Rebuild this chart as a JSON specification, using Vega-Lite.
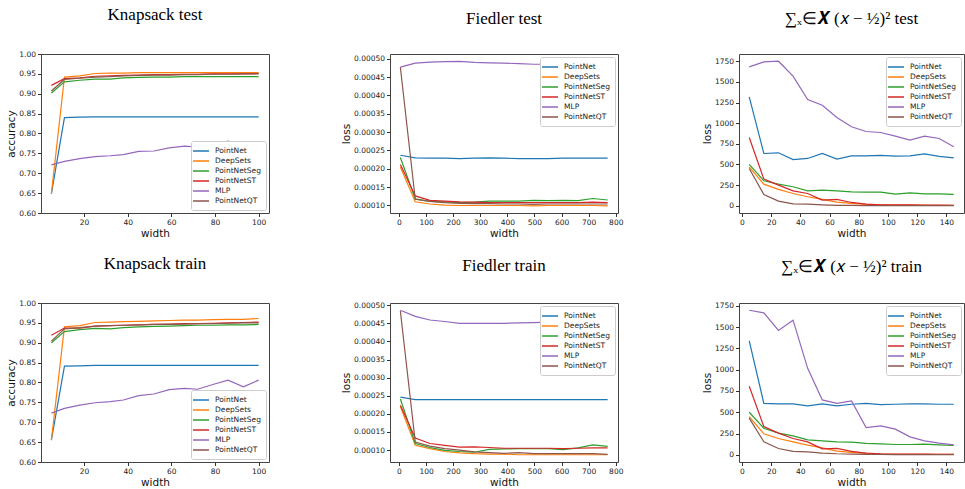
{
"$schema": "https://vega.github.io/schema/vega-lite/v6.json",
"padding": {"left": 6, "top": 5, "right": 0, "bottom": 0},
"background": "white",
"datasets": {
"kt": [
{"s":"PointNet","w":5,"v":0.648},{"s":"PointNet","w":11,"v":0.840},{"s":"PointNet","w":18,"v":0.841},{"s":"PointNet","w":25,"v":0.842},{"s":"PointNet","w":32,"v":0.842},{"s":"PointNet","w":38,"v":0.842},{"s":"PointNet","w":45,"v":0.842},{"s":"PointNet","w":52,"v":0.842},{"s":"PointNet","w":59,"v":0.842},{"s":"PointNet","w":66,"v":0.842},{"s":"PointNet","w":72,"v":0.842},{"s":"PointNet","w":79,"v":0.842},{"s":"PointNet","w":86,"v":0.842},{"s":"PointNet","w":93,"v":0.842},{"s":"PointNet","w":100,"v":0.842},
{"s":"DeepSets","w":5,"v":0.648},{"s":"DeepSets","w":11,"v":0.942},{"s":"DeepSets","w":18,"v":0.945},{"s":"DeepSets","w":25,"v":0.951},{"s":"DeepSets","w":32,"v":0.952},{"s":"DeepSets","w":38,"v":0.952},{"s":"DeepSets","w":45,"v":0.953},{"s":"DeepSets","w":52,"v":0.953},{"s":"DeepSets","w":59,"v":0.953},{"s":"DeepSets","w":66,"v":0.953},{"s":"DeepSets","w":72,"v":0.953},{"s":"DeepSets","w":79,"v":0.953},{"s":"DeepSets","w":86,"v":0.953},{"s":"DeepSets","w":93,"v":0.953},{"s":"DeepSets","w":100,"v":0.953},
{"s":"PointNetSeg","w":5,"v":0.902},{"s":"PointNetSeg","w":11,"v":0.930},{"s":"PointNetSeg","w":18,"v":0.934},{"s":"PointNetSeg","w":25,"v":0.937},{"s":"PointNetSeg","w":32,"v":0.937},{"s":"PointNetSeg","w":38,"v":0.940},{"s":"PointNetSeg","w":45,"v":0.941},{"s":"PointNetSeg","w":52,"v":0.942},{"s":"PointNetSeg","w":59,"v":0.942},{"s":"PointNetSeg","w":66,"v":0.943},{"s":"PointNetSeg","w":72,"v":0.943},{"s":"PointNetSeg","w":79,"v":0.943},{"s":"PointNetSeg","w":86,"v":0.943},{"s":"PointNetSeg","w":93,"v":0.943},{"s":"PointNetSeg","w":100,"v":0.943},
{"s":"PointNetST","w":5,"v":0.921},{"s":"PointNetST","w":11,"v":0.938},{"s":"PointNetST","w":18,"v":0.940},{"s":"PointNetST","w":25,"v":0.944},{"s":"PointNetST","w":32,"v":0.945},{"s":"PointNetST","w":38,"v":0.946},{"s":"PointNetST","w":45,"v":0.947},{"s":"PointNetST","w":52,"v":0.948},{"s":"PointNetST","w":59,"v":0.948},{"s":"PointNetST","w":66,"v":0.949},{"s":"PointNetST","w":72,"v":0.949},{"s":"PointNetST","w":79,"v":0.950},{"s":"PointNetST","w":86,"v":0.950},{"s":"PointNetST","w":93,"v":0.950},{"s":"PointNetST","w":100,"v":0.951},
{"s":"MLP","w":5,"v":0.721},{"s":"MLP","w":11,"v":0.730},{"s":"MLP","w":18,"v":0.737},{"s":"MLP","w":25,"v":0.742},{"s":"MLP","w":32,"v":0.744},{"s":"MLP","w":38,"v":0.747},{"s":"MLP","w":45,"v":0.755},{"s":"MLP","w":52,"v":0.756},{"s":"MLP","w":59,"v":0.764},{"s":"MLP","w":66,"v":0.768},{"s":"MLP","w":72,"v":0.766},{"s":"MLP","w":79,"v":0.772},{"s":"MLP","w":86,"v":0.781},{"s":"MLP","w":93,"v":0.769},{"s":"MLP","w":100,"v":0.777},
{"s":"PointNetQT","w":5,"v":0.907},{"s":"PointNetQT","w":11,"v":0.936},{"s":"PointNetQT","w":18,"v":0.939},{"s":"PointNetQT","w":25,"v":0.942},{"s":"PointNetQT","w":32,"v":0.943},{"s":"PointNetQT","w":38,"v":0.945},{"s":"PointNetQT","w":45,"v":0.946},{"s":"PointNetQT","w":52,"v":0.947},{"s":"PointNetQT","w":59,"v":0.947},{"s":"PointNetQT","w":66,"v":0.948},{"s":"PointNetQT","w":72,"v":0.948},{"s":"PointNetQT","w":79,"v":0.949},{"s":"PointNetQT","w":86,"v":0.949},{"s":"PointNetQT","w":93,"v":0.950},{"s":"PointNetQT","w":100,"v":0.950}
],
"ktr": [
{"s":"PointNet","w":5,"v":0.655},{"s":"PointNet","w":11,"v":0.841},{"s":"PointNet","w":18,"v":0.842},{"s":"PointNet","w":25,"v":0.843},{"s":"PointNet","w":32,"v":0.843},{"s":"PointNet","w":38,"v":0.843},{"s":"PointNet","w":45,"v":0.843},{"s":"PointNet","w":52,"v":0.843},{"s":"PointNet","w":59,"v":0.843},{"s":"PointNet","w":66,"v":0.843},{"s":"PointNet","w":72,"v":0.843},{"s":"PointNet","w":79,"v":0.843},{"s":"PointNet","w":86,"v":0.843},{"s":"PointNet","w":93,"v":0.843},{"s":"PointNet","w":100,"v":0.843},
{"s":"DeepSets","w":5,"v":0.655},{"s":"DeepSets","w":11,"v":0.940},{"s":"DeepSets","w":18,"v":0.943},{"s":"DeepSets","w":25,"v":0.951},{"s":"DeepSets","w":32,"v":0.952},{"s":"DeepSets","w":38,"v":0.953},{"s":"DeepSets","w":45,"v":0.954},{"s":"DeepSets","w":52,"v":0.955},{"s":"DeepSets","w":59,"v":0.956},{"s":"DeepSets","w":66,"v":0.957},{"s":"DeepSets","w":72,"v":0.957},{"s":"DeepSets","w":79,"v":0.958},{"s":"DeepSets","w":86,"v":0.959},{"s":"DeepSets","w":93,"v":0.959},{"s":"DeepSets","w":100,"v":0.961},
{"s":"PointNetSeg","w":5,"v":0.900},{"s":"PointNetSeg","w":11,"v":0.928},{"s":"PointNetSeg","w":18,"v":0.933},{"s":"PointNetSeg","w":25,"v":0.936},{"s":"PointNetSeg","w":32,"v":0.935},{"s":"PointNetSeg","w":38,"v":0.938},{"s":"PointNetSeg","w":45,"v":0.940},{"s":"PointNetSeg","w":52,"v":0.941},{"s":"PointNetSeg","w":59,"v":0.942},{"s":"PointNetSeg","w":66,"v":0.943},{"s":"PointNetSeg","w":72,"v":0.944},{"s":"PointNetSeg","w":79,"v":0.944},{"s":"PointNetSeg","w":86,"v":0.945},{"s":"PointNetSeg","w":93,"v":0.945},{"s":"PointNetSeg","w":100,"v":0.946},
{"s":"PointNetST","w":5,"v":0.919},{"s":"PointNetST","w":11,"v":0.937},{"s":"PointNetST","w":18,"v":0.937},{"s":"PointNetST","w":25,"v":0.942},{"s":"PointNetST","w":32,"v":0.943},{"s":"PointNetST","w":38,"v":0.944},{"s":"PointNetST","w":45,"v":0.945},{"s":"PointNetST","w":52,"v":0.946},{"s":"PointNetST","w":59,"v":0.947},{"s":"PointNetST","w":66,"v":0.948},{"s":"PointNetST","w":72,"v":0.948},{"s":"PointNetST","w":79,"v":0.949},{"s":"PointNetST","w":86,"v":0.950},{"s":"PointNetST","w":93,"v":0.951},{"s":"PointNetST","w":100,"v":0.952},
{"s":"MLP","w":5,"v":0.723},{"s":"MLP","w":11,"v":0.735},{"s":"MLP","w":18,"v":0.743},{"s":"MLP","w":25,"v":0.749},{"s":"MLP","w":32,"v":0.752},{"s":"MLP","w":38,"v":0.756},{"s":"MLP","w":45,"v":0.767},{"s":"MLP","w":52,"v":0.771},{"s":"MLP","w":59,"v":0.782},{"s":"MLP","w":66,"v":0.785},{"s":"MLP","w":72,"v":0.783},{"s":"MLP","w":79,"v":0.795},{"s":"MLP","w":86,"v":0.806},{"s":"MLP","w":93,"v":0.789},{"s":"MLP","w":100,"v":0.806},
{"s":"PointNetQT","w":5,"v":0.904},{"s":"PointNetQT","w":11,"v":0.935},{"s":"PointNetQT","w":18,"v":0.938},{"s":"PointNetQT","w":25,"v":0.942},{"s":"PointNetQT","w":32,"v":0.943},{"s":"PointNetQT","w":38,"v":0.944},{"s":"PointNetQT","w":45,"v":0.945},{"s":"PointNetQT","w":52,"v":0.946},{"s":"PointNetQT","w":59,"v":0.946},{"s":"PointNetQT","w":66,"v":0.947},{"s":"PointNetQT","w":72,"v":0.948},{"s":"PointNetQT","w":79,"v":0.948},{"s":"PointNetQT","w":86,"v":0.949},{"s":"PointNetQT","w":93,"v":0.950},{"s":"PointNetQT","w":100,"v":0.950}
],
"ft": [
{"s":"PointNet","w":5,"v":0.000237},{"s":"PointNet","w":60,"v":0.000230},{"s":"PointNet","w":114,"v":0.000229},{"s":"PointNet","w":169,"v":0.000229},{"s":"PointNet","w":224,"v":0.000228},{"s":"PointNet","w":278,"v":0.000229},{"s":"PointNet","w":333,"v":0.000230},{"s":"PointNet","w":388,"v":0.000229},{"s":"PointNet","w":442,"v":0.000228},{"s":"PointNet","w":497,"v":0.000228},{"s":"PointNet","w":551,"v":0.000228},{"s":"PointNet","w":606,"v":0.000229},{"s":"PointNet","w":661,"v":0.000229},{"s":"PointNet","w":715,"v":0.000229},{"s":"PointNet","w":770,"v":0.000229},
{"s":"DeepSets","w":5,"v":0.000205},{"s":"DeepSets","w":60,"v":0.000110},{"s":"DeepSets","w":114,"v":0.000104},{"s":"DeepSets","w":169,"v":0.000101},{"s":"DeepSets","w":224,"v":0.000100},{"s":"DeepSets","w":278,"v":0.000100},{"s":"DeepSets","w":333,"v":0.000100},{"s":"DeepSets","w":388,"v":0.000100},{"s":"DeepSets","w":442,"v":0.000100},{"s":"DeepSets","w":497,"v":0.000099},{"s":"DeepSets","w":551,"v":0.000100},{"s":"DeepSets","w":606,"v":0.000100},{"s":"DeepSets","w":661,"v":0.000100},{"s":"DeepSets","w":715,"v":0.000100},{"s":"DeepSets","w":770,"v":0.000099},
{"s":"PointNetSeg","w":5,"v":0.000231},{"s":"PointNetSeg","w":60,"v":0.000118},{"s":"PointNetSeg","w":114,"v":0.000111},{"s":"PointNetSeg","w":169,"v":0.000110},{"s":"PointNetSeg","w":224,"v":0.000108},{"s":"PointNetSeg","w":278,"v":0.000109},{"s":"PointNetSeg","w":333,"v":0.000112},{"s":"PointNetSeg","w":388,"v":0.000112},{"s":"PointNetSeg","w":442,"v":0.000112},{"s":"PointNetSeg","w":497,"v":0.000114},{"s":"PointNetSeg","w":551,"v":0.000113},{"s":"PointNetSeg","w":606,"v":0.000114},{"s":"PointNetSeg","w":661,"v":0.000113},{"s":"PointNetSeg","w":715,"v":0.000119},{"s":"PointNetSeg","w":770,"v":0.000115},
{"s":"PointNetST","w":5,"v":0.000212},{"s":"PointNetST","w":60,"v":0.000126},{"s":"PointNetST","w":114,"v":0.000114},{"s":"PointNetST","w":169,"v":0.000112},{"s":"PointNetST","w":224,"v":0.000110},{"s":"PointNetST","w":278,"v":0.000109},{"s":"PointNetST","w":333,"v":0.000108},{"s":"PointNetST","w":388,"v":0.000108},{"s":"PointNetST","w":442,"v":0.000108},{"s":"PointNetST","w":497,"v":0.000108},{"s":"PointNetST","w":551,"v":0.000108},{"s":"PointNetST","w":606,"v":0.000108},{"s":"PointNetST","w":661,"v":0.000108},{"s":"PointNetST","w":715,"v":0.000109},{"s":"PointNetST","w":770,"v":0.000108},
{"s":"MLP","w":5,"v":0.000477},{"s":"MLP","w":60,"v":0.000488},{"s":"MLP","w":114,"v":0.000491},{"s":"MLP","w":169,"v":0.000492},{"s":"MLP","w":224,"v":0.000493},{"s":"MLP","w":278,"v":0.000490},{"s":"MLP","w":333,"v":0.000489},{"s":"MLP","w":388,"v":0.000488},{"s":"MLP","w":442,"v":0.000487},{"s":"MLP","w":497,"v":0.000485},{"s":"MLP","w":551,"v":0.000485},{"s":"MLP","w":606,"v":0.000485},{"s":"MLP","w":661,"v":0.000484},{"s":"MLP","w":715,"v":0.000484},{"s":"MLP","w":770,"v":0.000484},
{"s":"PointNetQT","w":5,"v":0.000477},{"s":"PointNetQT","w":60,"v":0.000117},{"s":"PointNetQT","w":114,"v":0.000111},{"s":"PointNetQT","w":169,"v":0.000108},{"s":"PointNetQT","w":224,"v":0.000106},{"s":"PointNetQT","w":278,"v":0.000105},{"s":"PointNetQT","w":333,"v":0.000105},{"s":"PointNetQT","w":388,"v":0.000104},{"s":"PointNetQT","w":442,"v":0.000104},{"s":"PointNetQT","w":497,"v":0.000103},{"s":"PointNetQT","w":551,"v":0.000104},{"s":"PointNetQT","w":606,"v":0.000104},{"s":"PointNetQT","w":661,"v":0.000104},{"s":"PointNetQT","w":715,"v":0.000104},{"s":"PointNetQT","w":770,"v":0.000104}
],
"ftr": [
{"s":"PointNet","w":5,"v":0.000246},{"s":"PointNet","w":60,"v":0.000239},{"s":"PointNet","w":114,"v":0.000239},{"s":"PointNet","w":169,"v":0.000239},{"s":"PointNet","w":224,"v":0.000239},{"s":"PointNet","w":278,"v":0.000239},{"s":"PointNet","w":333,"v":0.000239},{"s":"PointNet","w":388,"v":0.000239},{"s":"PointNet","w":442,"v":0.000239},{"s":"PointNet","w":497,"v":0.000239},{"s":"PointNet","w":551,"v":0.000239},{"s":"PointNet","w":606,"v":0.000239},{"s":"PointNet","w":661,"v":0.000239},{"s":"PointNet","w":715,"v":0.000239},{"s":"PointNet","w":770,"v":0.000239},
{"s":"DeepSets","w":5,"v":0.000220},{"s":"DeepSets","w":60,"v":0.000113},{"s":"DeepSets","w":114,"v":0.000104},{"s":"DeepSets","w":169,"v":0.000096},{"s":"DeepSets","w":224,"v":0.000092},{"s":"DeepSets","w":278,"v":0.000090},{"s":"DeepSets","w":333,"v":0.000089},{"s":"DeepSets","w":388,"v":0.000089},{"s":"DeepSets","w":442,"v":0.000087},{"s":"DeepSets","w":497,"v":0.000087},{"s":"DeepSets","w":551,"v":0.000087},{"s":"DeepSets","w":606,"v":0.000087},{"s":"DeepSets","w":661,"v":0.000087},{"s":"DeepSets","w":715,"v":0.000087},{"s":"DeepSets","w":770,"v":0.000087},
{"s":"PointNetSeg","w":5,"v":0.000241},{"s":"PointNetSeg","w":60,"v":0.000118},{"s":"PointNetSeg","w":114,"v":0.000107},{"s":"PointNetSeg","w":169,"v":0.000099},{"s":"PointNetSeg","w":224,"v":0.000096},{"s":"PointNetSeg","w":278,"v":0.000094},{"s":"PointNetSeg","w":333,"v":0.000102},{"s":"PointNetSeg","w":388,"v":0.000103},{"s":"PointNetSeg","w":442,"v":0.000104},{"s":"PointNetSeg","w":497,"v":0.000104},{"s":"PointNetSeg","w":551,"v":0.000104},{"s":"PointNetSeg","w":606,"v":0.000101},{"s":"PointNetSeg","w":661,"v":0.000106},{"s":"PointNetSeg","w":715,"v":0.000114},{"s":"PointNetSeg","w":770,"v":0.000110},
{"s":"PointNetST","w":5,"v":0.000224},{"s":"PointNetST","w":60,"v":0.000133},{"s":"PointNetST","w":114,"v":0.000118},{"s":"PointNetST","w":169,"v":0.000113},{"s":"PointNetST","w":224,"v":0.000108},{"s":"PointNetST","w":278,"v":0.000109},{"s":"PointNetST","w":333,"v":0.000107},{"s":"PointNetST","w":388,"v":0.000105},{"s":"PointNetST","w":442,"v":0.000105},{"s":"PointNetST","w":497,"v":0.000105},{"s":"PointNetST","w":551,"v":0.000105},{"s":"PointNetST","w":606,"v":0.000104},{"s":"PointNetST","w":661,"v":0.000105},{"s":"PointNetST","w":715,"v":0.000106},{"s":"PointNetST","w":770,"v":0.000106},
{"s":"MLP","w":5,"v":0.000486},{"s":"MLP","w":60,"v":0.000469},{"s":"MLP","w":114,"v":0.000459},{"s":"MLP","w":169,"v":0.000455},{"s":"MLP","w":224,"v":0.000450},{"s":"MLP","w":278,"v":0.000450},{"s":"MLP","w":333,"v":0.000450},{"s":"MLP","w":388,"v":0.000450},{"s":"MLP","w":442,"v":0.000451},{"s":"MLP","w":497,"v":0.000452},{"s":"MLP","w":551,"v":0.000453},{"s":"MLP","w":606,"v":0.000455},{"s":"MLP","w":661,"v":0.000456},{"s":"MLP","w":715,"v":0.000458},{"s":"MLP","w":770,"v":0.000459},
{"s":"PointNetQT","w":5,"v":0.000484},{"s":"PointNetQT","w":60,"v":0.000122},{"s":"PointNetQT","w":114,"v":0.000111},{"s":"PointNetQT","w":169,"v":0.000104},{"s":"PointNetQT","w":224,"v":0.000100},{"s":"PointNetQT","w":278,"v":0.000095},{"s":"PointNetQT","w":333,"v":0.000093},{"s":"PointNetQT","w":388,"v":0.000091},{"s":"PointNetQT","w":442,"v":0.000093},{"s":"PointNetQT","w":497,"v":0.000090},{"s":"PointNetQT","w":551,"v":0.000090},{"s":"PointNetQT","w":606,"v":0.000090},{"s":"PointNetQT","w":661,"v":0.000090},{"s":"PointNetQT","w":715,"v":0.000090},{"s":"PointNetQT","w":770,"v":0.000088}
],
"st": [
{"s":"PointNet","w":5,"v":1319},{"s":"PointNet","w":15,"v":633},{"s":"PointNet","w":25,"v":641},{"s":"PointNet","w":35,"v":560},{"s":"PointNet","w":45,"v":573},{"s":"PointNet","w":55,"v":633},{"s":"PointNet","w":65,"v":565},{"s":"PointNet","w":75,"v":605},{"s":"PointNet","w":85,"v":605},{"s":"PointNet","w":95,"v":609},{"s":"PointNet","w":105,"v":601},{"s":"PointNet","w":115,"v":605},{"s":"PointNet","w":125,"v":629},{"s":"PointNet","w":135,"v":597},{"s":"PointNet","w":145,"v":581},
{"s":"DeepSets","w":5,"v":472},{"s":"DeepSets","w":15,"v":262},{"s":"DeepSets","w":25,"v":198},{"s":"DeepSets","w":35,"v":149},{"s":"DeepSets","w":45,"v":109},{"s":"DeepSets","w":55,"v":77},{"s":"DeepSets","w":65,"v":44},{"s":"DeepSets","w":75,"v":28},{"s":"DeepSets","w":85,"v":16},{"s":"DeepSets","w":95,"v":12},{"s":"DeepSets","w":105,"v":8},{"s":"DeepSets","w":115,"v":8},{"s":"DeepSets","w":125,"v":4},{"s":"DeepSets","w":135,"v":4},{"s":"DeepSets","w":145,"v":4},
{"s":"PointNetSeg","w":5,"v":500},{"s":"PointNetSeg","w":15,"v":302},{"s":"PointNetSeg","w":25,"v":262},{"s":"PointNetSeg","w":35,"v":230},{"s":"PointNetSeg","w":45,"v":181},{"s":"PointNetSeg","w":55,"v":190},{"s":"PointNetSeg","w":65,"v":181},{"s":"PointNetSeg","w":75,"v":169},{"s":"PointNetSeg","w":85,"v":165},{"s":"PointNetSeg","w":95,"v":165},{"s":"PointNetSeg","w":105,"v":141},{"s":"PointNetSeg","w":115,"v":157},{"s":"PointNetSeg","w":125,"v":145},{"s":"PointNetSeg","w":135,"v":145},{"s":"PointNetSeg","w":145,"v":137},
{"s":"PointNetST","w":5,"v":827},{"s":"PointNetST","w":15,"v":323},{"s":"PointNetST","w":25,"v":250},{"s":"PointNetST","w":35,"v":181},{"s":"PointNetST","w":45,"v":149},{"s":"PointNetST","w":55,"v":69},{"s":"PointNetST","w":65,"v":77},{"s":"PointNetST","w":75,"v":40},{"s":"PointNetST","w":85,"v":20},{"s":"PointNetST","w":95,"v":12},{"s":"PointNetST","w":105,"v":12},{"s":"PointNetST","w":115,"v":12},{"s":"PointNetST","w":125,"v":8},{"s":"PointNetST","w":135,"v":8},{"s":"PointNetST","w":145,"v":4},
{"s":"MLP","w":5,"v":1681},{"s":"MLP","w":15,"v":1742},{"s":"MLP","w":25,"v":1750},{"s":"MLP","w":35,"v":1569},{"s":"MLP","w":45,"v":1286},{"s":"MLP","w":55,"v":1218},{"s":"MLP","w":65,"v":1069},{"s":"MLP","w":75,"v":956},{"s":"MLP","w":85,"v":899},{"s":"MLP","w":95,"v":887},{"s":"MLP","w":105,"v":843},{"s":"MLP","w":115,"v":794},{"s":"MLP","w":125,"v":843},{"s":"MLP","w":135,"v":815},{"s":"MLP","w":145,"v":714},
{"s":"PointNetQT","w":5,"v":452},{"s":"PointNetQT","w":15,"v":137},{"s":"PointNetQT","w":25,"v":56},{"s":"PointNetQT","w":35,"v":24},{"s":"PointNetQT","w":45,"v":20},{"s":"PointNetQT","w":55,"v":12},{"s":"PointNetQT","w":65,"v":4},{"s":"PointNetQT","w":75,"v":4},{"s":"PointNetQT","w":85,"v":2},{"s":"PointNetQT","w":95,"v":2},{"s":"PointNetQT","w":105,"v":2},{"s":"PointNetQT","w":115,"v":2},{"s":"PointNetQT","w":125,"v":2},{"s":"PointNetQT","w":135,"v":2},{"s":"PointNetQT","w":145,"v":2}
],
"str": [
{"s":"PointNet","w":5,"v":1340},{"s":"PointNet","w":15,"v":605},{"s":"PointNet","w":25,"v":598},{"s":"PointNet","w":35,"v":598},{"s":"PointNet","w":45,"v":574},{"s":"PointNet","w":55,"v":598},{"s":"PointNet","w":65,"v":574},{"s":"PointNet","w":75,"v":594},{"s":"PointNet","w":85,"v":605},{"s":"PointNet","w":95,"v":590},{"s":"PointNet","w":105,"v":594},{"s":"PointNet","w":115,"v":598},{"s":"PointNet","w":125,"v":598},{"s":"PointNet","w":135,"v":594},{"s":"PointNet","w":145,"v":594},
{"s":"DeepSets","w":5,"v":449},{"s":"DeepSets","w":15,"v":246},{"s":"DeepSets","w":25,"v":191},{"s":"DeepSets","w":35,"v":152},{"s":"DeepSets","w":45,"v":113},{"s":"DeepSets","w":55,"v":82},{"s":"DeepSets","w":65,"v":43},{"s":"DeepSets","w":75,"v":27},{"s":"DeepSets","w":85,"v":16},{"s":"DeepSets","w":95,"v":8},{"s":"DeepSets","w":105,"v":6},{"s":"DeepSets","w":115,"v":4},{"s":"DeepSets","w":125,"v":4},{"s":"DeepSets","w":135,"v":4},{"s":"DeepSets","w":145,"v":4},
{"s":"PointNetSeg","w":5,"v":500},{"s":"PointNetSeg","w":15,"v":312},{"s":"PointNetSeg","w":25,"v":254},{"s":"PointNetSeg","w":35,"v":223},{"s":"PointNetSeg","w":45,"v":176},{"s":"PointNetSeg","w":55,"v":164},{"s":"PointNetSeg","w":65,"v":152},{"s":"PointNetSeg","w":75,"v":148},{"s":"PointNetSeg","w":85,"v":133},{"s":"PointNetSeg","w":95,"v":129},{"s":"PointNetSeg","w":105,"v":121},{"s":"PointNetSeg","w":115,"v":121},{"s":"PointNetSeg","w":125,"v":125},{"s":"PointNetSeg","w":135,"v":117},{"s":"PointNetSeg","w":145,"v":109},
{"s":"PointNetST","w":5,"v":805},{"s":"PointNetST","w":15,"v":332},{"s":"PointNetST","w":25,"v":254},{"s":"PointNetST","w":35,"v":191},{"s":"PointNetST","w":45,"v":152},{"s":"PointNetST","w":55,"v":70},{"s":"PointNetST","w":65,"v":74},{"s":"PointNetST","w":75,"v":39},{"s":"PointNetST","w":85,"v":20},{"s":"PointNetST","w":95,"v":12},{"s":"PointNetST","w":105,"v":8},{"s":"PointNetST","w":115,"v":8},{"s":"PointNetST","w":125,"v":8},{"s":"PointNetST","w":135,"v":6},{"s":"PointNetST","w":145,"v":4},
{"s":"MLP","w":5,"v":1699},{"s":"MLP","w":15,"v":1668},{"s":"MLP","w":25,"v":1461},{"s":"MLP","w":35,"v":1582},{"s":"MLP","w":45,"v":1016},{"s":"MLP","w":55,"v":645},{"s":"MLP","w":65,"v":605},{"s":"MLP","w":75,"v":633},{"s":"MLP","w":85,"v":320},{"s":"MLP","w":95,"v":340},{"s":"MLP","w":105,"v":301},{"s":"MLP","w":115,"v":211},{"s":"MLP","w":125,"v":164},{"s":"MLP","w":135,"v":137},{"s":"MLP","w":145,"v":117},
{"s":"PointNetQT","w":5,"v":430},{"s":"PointNetQT","w":15,"v":152},{"s":"PointNetQT","w":25,"v":74},{"s":"PointNetQT","w":35,"v":39},{"s":"PointNetQT","w":45,"v":35},{"s":"PointNetQT","w":55,"v":20},{"s":"PointNetQT","w":65,"v":12},{"s":"PointNetQT","w":75,"v":8},{"s":"PointNetQT","w":85,"v":4},{"s":"PointNetQT","w":95,"v":4},{"s":"PointNetQT","w":105,"v":2},{"s":"PointNetQT","w":115,"v":2},{"s":"PointNetQT","w":125,"v":2},{"s":"PointNetQT","w":135,"v":2},{"s":"PointNetQT","w":145,"v":2}
]
},
"columns": 3,
"spacing": {"row": 90, "column": 121},
"bounds": "flush",
"resolve": {"scale": {"color": "independent", "x": "independent", "y": "independent"}, "legend": {"color": "independent"}},
"concat": [
{
"title": "Knapsack test",
"width": 228, "height": 159,
"data": {"name": "kt"},
"mark": {"type": "line", "strokeWidth": 1.2},
"encoding": {
"x": {"field": "w", "type": "quantitative", "scale": {"domain": [0.25, 104.75], "nice": false, "zero": false}, "axis": {"title": "width", "values": [20, 40, 60, 80, 100]}},
"y": {"field": "v", "type": "quantitative", "scale": {"domain": [0.6, 1.0], "nice": false, "zero": false}, "axis": {"title": "accuracy", "values": [0.6, 0.65, 0.7, 0.75, 0.8, 0.85, 0.9, 0.95, 1.0], "format": ".2f"}},
"color": {"field": "s", "type": "nominal", "scale": {"domain": ["PointNet", "DeepSets", "PointNetSeg", "PointNetST", "MLP", "PointNetQT"], "range": ["#1f77b4", "#ff7f0e", "#2ca02c", "#d62728", "#9467bd", "#8c564b"]}, "legend": {"title": null, "orient": "bottom-right"}}
}
},
{
"title": "Fiedler test",
"width": 228, "height": 159,
"data": {"name": "ft"},
"mark": {"type": "line", "strokeWidth": 1.2},
"encoding": {
"x": {"field": "w", "type": "quantitative", "scale": {"domain": [-33.25, 808.25], "nice": false, "zero": false}, "axis": {"title": "width", "values": [0, 100, 200, 300, 400, 500, 600, 700, 800]}},
"y": {"field": "v", "type": "quantitative", "scale": {"domain": [0.0000795, 0.000513], "nice": false, "zero": false}, "axis": {"title": "loss", "values": [0.0001, 0.00015, 0.0002, 0.00025, 0.0003, 0.00035, 0.0004, 0.00045, 0.0005], "format": ".5f"}},
"color": {"field": "s", "type": "nominal", "scale": {"domain": ["PointNet", "DeepSets", "PointNetSeg", "PointNetST", "MLP", "PointNetQT"], "range": ["#1f77b4", "#ff7f0e", "#2ca02c", "#d62728", "#9467bd", "#8c564b"]}, "legend": {"title": null, "orient": "top-right"}}
}
},
{
"title": "∑ₓ∈𝑿 (𝑥 − ½)² test",
"width": 225, "height": 159,
"data": {"name": "st"},
"mark": {"type": "line", "strokeWidth": 1.2},
"encoding": {
"x": {"field": "w", "type": "quantitative", "scale": {"domain": [-2, 152], "nice": false, "zero": false}, "axis": {"title": "width", "values": [0, 20, 40, 60, 80, 100, 120, 140]}},
"y": {"field": "v", "type": "quantitative", "scale": {"domain": [-87.5, 1837.5], "nice": false, "zero": false}, "axis": {"title": "loss", "values": [0, 250, 500, 750, 1000, 1250, 1500, 1750], "format": "d"}},
"color": {"field": "s", "type": "nominal", "scale": {"domain": ["PointNet", "DeepSets", "PointNetSeg", "PointNetST", "MLP", "PointNetQT"], "range": ["#1f77b4", "#ff7f0e", "#2ca02c", "#d62728", "#9467bd", "#8c564b"]}, "legend": {"title": null, "orient": "top-right"}}
}
},
{
"title": "Knapsack train",
"width": 228, "height": 159,
"data": {"name": "ktr"},
"mark": {"type": "line", "strokeWidth": 1.2},
"encoding": {
"x": {"field": "w", "type": "quantitative", "scale": {"domain": [0.25, 104.75], "nice": false, "zero": false}, "axis": {"title": "width", "values": [20, 40, 60, 80, 100]}},
"y": {"field": "v", "type": "quantitative", "scale": {"domain": [0.6, 1.0], "nice": false, "zero": false}, "axis": {"title": "accuracy", "values": [0.6, 0.65, 0.7, 0.75, 0.8, 0.85, 0.9, 0.95, 1.0], "format": ".2f"}},
"color": {"field": "s", "type": "nominal", "scale": {"domain": ["PointNet", "DeepSets", "PointNetSeg", "PointNetST", "MLP", "PointNetQT"], "range": ["#1f77b4", "#ff7f0e", "#2ca02c", "#d62728", "#9467bd", "#8c564b"]}, "legend": {"title": null, "orient": "bottom-right"}}
}
},
{
"title": "Fiedler train",
"width": 228, "height": 159,
"data": {"name": "ftr"},
"mark": {"type": "line", "strokeWidth": 1.2},
"encoding": {
"x": {"field": "w", "type": "quantitative", "scale": {"domain": [-33.25, 808.25], "nice": false, "zero": false}, "axis": {"title": "width", "values": [0, 100, 200, 300, 400, 500, 600, 700, 800]}},
"y": {"field": "v", "type": "quantitative", "scale": {"domain": [0.000067, 0.000506], "nice": false, "zero": false}, "axis": {"title": "loss", "values": [0.0001, 0.00015, 0.0002, 0.00025, 0.0003, 0.00035, 0.0004, 0.00045, 0.0005], "format": ".5f"}},
"color": {"field": "s", "type": "nominal", "scale": {"domain": ["PointNet", "DeepSets", "PointNetSeg", "PointNetST", "MLP", "PointNetQT"], "range": ["#1f77b4", "#ff7f0e", "#2ca02c", "#d62728", "#9467bd", "#8c564b"]}, "legend": {"title": null, "orient": "top-right"}}
}
},
{
"title": "∑ₓ∈𝑿 (𝑥 − ½)² train",
"width": 225, "height": 159,
"data": {"name": "str"},
"mark": {"type": "line", "strokeWidth": 1.2},
"encoding": {
"x": {"field": "w", "type": "quantitative", "scale": {"domain": [-2, 152], "nice": false, "zero": false}, "axis": {"title": "width", "values": [0, 20, 40, 60, 80, 100, 120, 140]}},
"y": {"field": "v", "type": "quantitative", "scale": {"domain": [-85, 1784], "nice": false, "zero": false}, "axis": {"title": "loss", "values": [0, 250, 500, 750, 1000, 1250, 1500, 1750], "format": "d"}},
"color": {"field": "s", "type": "nominal", "scale": {"domain": ["PointNet", "DeepSets", "PointNetSeg", "PointNetST", "MLP", "PointNetQT"], "range": ["#1f77b4", "#ff7f0e", "#2ca02c", "#d62728", "#9467bd", "#8c564b"]}, "legend": {"title": null, "orient": "top-right"}}
}
}
],
"config": {
"font": "DejaVu Sans",
"view": {"stroke": "#444", "strokeWidth": 1},
"axis": {"grid": false, "domain": false, "tickColor": "#333", "tickSize": 3.5, "labelFont": "DejaVu Sans", "labelFontSize": 7.5, "labelColor": "#222", "titleFont": "DejaVu Sans", "titleFontSize": 10.5, "titleFontWeight": "normal", "titleColor": "#111", "labelPadding": 2, "titlePadding": 2},
"title": {"font": "Liberation Serif", "fontSize": 17, "fontWeight": "normal", "color": "#000", "offset": 26, "anchor": "middle"},
"legend": {"labelFont": "DejaVu Sans", "labelFontSize": 7.5, "labelColor": "#222", "symbolType": "M-2,0H2", "symbolSize": 64, "symbolStrokeWidth": 1.5, "symbolFillColor": "transparent", "labelOffset": 9, "rowPadding": 1, "padding": 5, "fillColor": "white", "strokeColor": "#ccc", "cornerRadius": 2, "offset": 3}
}
}
